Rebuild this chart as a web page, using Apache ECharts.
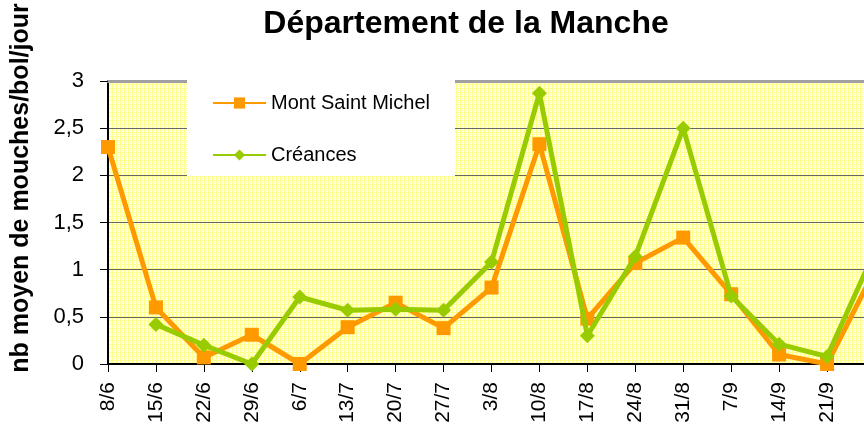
<!DOCTYPE html>
<html>
<head>
<meta charset="utf-8">
<script src="https://cdn.jsdelivr.net/npm/echarts@6/dist/echarts.min.js"></script>
<style>
  html, body { margin: 0; padding: 0; background: #fff; }
  #chart { width: 864px; height: 425px; }
</style>
</head>
<body>
<div id="chart"></div>
<script>
// dates des relevés
const categories = ['8/6', '15/6', '22/6', '29/6', '6/7', '13/7', '20/7', '27/7', '3/8',
  '10/8', '17/8', '24/8', '31/8', '7/9', '14/9', '21/9', '28/9']
const montSaintMichel = [2.3, 0.6, 0.07, 0.31, 0, 0.39, 0.65, 0.38, 0.81,
  2.33, 0.48, 1.07, 1.34, 0.74, 0.1, 0, 1.0]
const creances = [null, 0.42, 0.2, 0, 0.71, 0.57, 0.58, 0.57, 1.08,
  2.87, 0.3, 1.14, 2.5, 0.72, 0.21, 0.08, 1.2]
const yTicks = [0, 0.5, 1, 1.5, 2, 2.5, 3]

// petit motif jaune pour le fond du graphique
function makePattern () {
  const c = document.createElement('canvas')
  c.width = 4
  c.height = 4
  const ctx = c.getContext('2d')
  ctx.fillStyle = '#fffff2'
  ctx.fillRect(0, 0, 4, 4)
  ctx.fillStyle = '#ffff8c'
  ctx.fillRect(0, 0, 4, 1)
  ctx.fillRect(0, 0, 1, 4)
  ctx.fillStyle = '#ffffb8'
  ctx.fillRect(2, 2, 1, 1)
  return c
}

const chartInstance = echarts.init(document.getElementById('chart'), null, { renderer: 'canvas' })
const font = 'Liberation Sans, Arial, sans-serif'

const option = {
  animation: false,
  textStyle: { fontFamily: font },
  title: {
    text: 'Département de la Manche',
    left: 461,
    textAlign: 'center',
    top: 3,
    textStyle: { fontSize: 32, fontWeight: 'bold', color: '#000', fontFamily: font }
  },
  // titre de l'axe vertical, décalé vers le haut comme sur l'original
  graphic: [
    {
      type: 'text',
      x: 21,
      y: 188,
      rotation: Math.PI / 2,
      style: {
        text: 'nb moyen de mouches/bol/jour',
        font: 'bold 25px ' + font,
        fill: '#000',
        align: 'center',
        verticalAlign: 'middle'
      }
    }
  ],
  legend: {
    left: 187,
    top: 79,
    orient: 'vertical',
    backgroundColor: '#fff',
    padding: [14, 25, 11, 25],
    itemGap: 32,
    itemWidth: 53,
    itemHeight: 14,
    textStyle: { fontSize: 20, color: '#000', fontFamily: font },
    data: ['Mont Saint Michel', 'Créances']
  },
  grid: {
    left: 108,
    top: 81,
    width: 767,
    height: 283,
    outerBoundsMode: 'none',
    containLabel: false,
    show: true,
    borderWidth: 0,
    backgroundColor: { image: makePattern(), repeat: 'repeat' }
  },
  xAxis: [
    {
      type: 'category',
      data: categories,
      boundaryGap: false,
      axisLine: { lineStyle: { color: '#000', width: 2 } },
      axisTick: { show: true, inside: false, length: 8, lineStyle: { color: '#000' } },
      axisLabel: {
        rotate: 90,
        margin: 18,
        fontSize: 21,
        color: '#000',
        fontFamily: font,
        interval: 0
      },
      splitLine: { show: false }
    },
    {
      type: 'category',
      data: categories,
      boundaryGap: false,
      position: 'top',
      axisLine: { lineStyle: { color: '#a0a0a0', width: 3 } },
      axisTick: { show: false },
      axisLabel: { show: false },
      splitLine: { show: false }
    }
  ],
  yAxis: {
    type: 'value',
    min: yTicks[0],
    max: yTicks[yTicks.length - 1],
    interval: 0.5,
    axisLine: { show: true, lineStyle: { color: '#000', width: 2 } },
    axisTick: { show: true, length: 8, lineStyle: { color: '#000' } },
    axisLabel: {
      margin: 24,
      fontSize: 22,
      color: '#000',
      fontFamily: font,
      formatter: v => String(v).replace('.', ',')
    },
    splitLine: {
      show: true,
      lineStyle: { color: ['#000', '#666', '#666', '#666', '#666', '#666', 'rgba(0,0,0,0)'], width: 1 }
    }
  },
  series: [
    {
      name: 'Mont Saint Michel',
      type: 'line',
      data: montSaintMichel,
      symbol: 'rect',
      symbolSize: 14,
      lineStyle: { color: '#ff9900', width: 5 },
      itemStyle: { color: '#ff9900' },
      z: 3
    },
    {
      name: 'Créances',
      type: 'line',
      data: creances,
      symbol: 'diamond',
      symbolSize: [15, 15],
      lineStyle: { color: '#99cc00', width: 5 },
      itemStyle: { color: '#99cc00' },
      z: 4
    }
  ]
}

chartInstance.setOption(option)
</script>
</body>
</html>
